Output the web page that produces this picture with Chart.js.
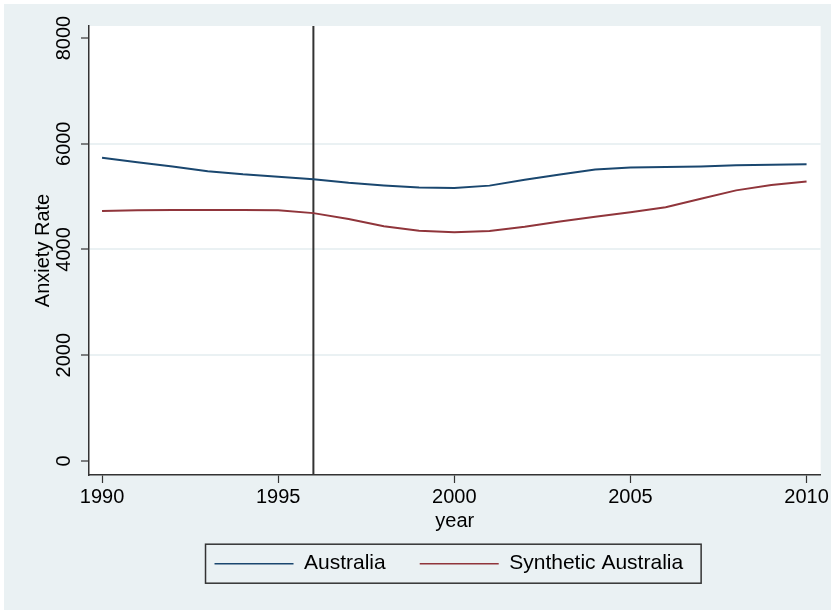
<!DOCTYPE html>
<html>
<head>
<meta charset="utf-8">
<script src="https://cdn.jsdelivr.net/npm/chart.js@4/dist/chart.umd.min.js"></script>
<style>
  html, body { margin: 0; padding: 0; background: #ffffff; }
  #wrap { width: 831px; height: 610px; }
</style>
</head>
<body>
<div id="wrap"><canvas id="chart" width="831" height="610"></canvas></div>
<script>
// Annual anxiety rate: Australia against its synthetic control
const years = [1990, 1991, 1992, 1993, 1994, 1995, 1996, 1997, 1998, 1999, 2000,
               2001, 2002, 2003, 2004, 2005, 2006, 2007, 2008, 2009, 2010];
const australia = [5737, 5650, 5568, 5482, 5422, 5378, 5330, 5262, 5210, 5172, 5162,
                   5208, 5318, 5420, 5512, 5550, 5558, 5572, 5592, 5604, 5610];
const syntheticAustralia = [4728, 4740, 4747, 4748, 4746, 4740, 4688, 4577, 4438, 4356, 4328,
                            4352, 4432, 4530, 4620, 4703, 4800, 4960, 5118, 5220, 5285];
const xTickValues = [1990, 1995, 2000, 2005, 2010];
const yTickValues = [0, 2000, 4000, 6000, 8000];
const treatmentYear = 1996;
const seriesNames = ['Australia', 'Synthetic Australia'];

const FONT = "'Liberation Sans', Helvetica, Arial, sans-serif";
const BG = '#eaf1f3';
const INK = '#333333';

const toPoints = (vals) => years.map((y, i) => ({ x: y, y: vals[i] }));

// Page background, plot region and the legend frame
const backdrop = {
  id: 'backdrop',
  afterLayout(chart) {
    // nudge the legend row slightly left of the plot centre
    if (chart.legend) { chart.legend.left -= 6; chart.legend.right -= 6; }
  },
  beforeDraw(chart) {
    const { ctx, chartArea: a } = chart;
    ctx.save();
    ctx.fillStyle = '#ffffff';
    ctx.fillRect(0, 0, chart.width, chart.height);
    ctx.fillStyle = BG;
    ctx.fillRect(4, 4, chart.width - 4, chart.height - 4);
    ctx.fillStyle = '#ffffff';
    ctx.fillRect(a.left, a.top, a.right - a.left, a.bottom - a.top);
    ctx.restore();
  },
  afterDraw(chart) {
    const boxes = chart.legend && chart.legend.legendHitBoxes;
    if (!boxes || !boxes.length) return;
    const first = boxes[0];
    const last = boxes[boxes.length - 1];
    const cy = first.top + first.height / 2;
    const ctx = chart.ctx;
    ctx.save();
    ctx.strokeStyle = INK;
    ctx.lineWidth = 1.5;
    ctx.strokeRect(first.left - 9, cy - 19.5, last.left + last.width + 18 - (first.left - 9), 39);
    ctx.restore();
  }
};

// Vertical reference line at the treatment year
const treatmentLine = {
  id: 'treatmentLine',
  beforeDatasetsDraw(chart) {
    const { ctx, chartArea: a, scales: { x } } = chart;
    const px = x.getPixelForValue(treatmentYear);
    ctx.save();
    ctx.strokeStyle = INK;
    ctx.lineWidth = 2;
    ctx.beginPath();
    ctx.moveTo(px, a.top);
    ctx.lineTo(px, a.bottom);
    ctx.stroke();
    ctx.restore();
  }
};

new Chart(document.getElementById('chart'), {
  type: 'line',
  data: {
    datasets: [
      { label: seriesNames[0], data: toPoints(australia), borderColor: '#1a476f', backgroundColor: '#1a476f' },
      { label: seriesNames[1], data: toPoints(syntheticAustralia), borderColor: '#90353b', backgroundColor: '#90353b' }
    ]
  },
  options: {
    responsive: false,
    animation: false,
    devicePixelRatio: 1,
    layout: { padding: { top: 26, right: 10, left: 0, bottom: 25.8 } },
    elements: {
      line: { borderWidth: 2, tension: 0 },
      point: { radius: 0, hoverRadius: 0 }
    },
    plugins: {
      tooltip: { enabled: false },
      legend: {
        position: 'bottom',
        fullSize: false,
        align: 'center',
        labels: {
          usePointStyle: true,
          pointStyle: 'line',
          pointStyleWidth: 79,
          boxHeight: 21,
          padding: 34,
          color: '#000000',
          font: { family: FONT, size: 21 },
          generateLabels(chart) {
            return chart.data.datasets.map((ds, i) => ({
              text: ds.label,
              datasetIndex: i,
              strokeStyle: ds.borderColor,
              fillStyle: ds.borderColor,
              lineWidth: 1.5,
              pointStyle: 'line',
              hidden: false
            }));
          }
        }
      }
    },
    scales: {
      x: {
        type: 'linear',
        position: 'bottom',
        min: 1989.63,
        max: 2010.4,
        afterBuildTicks(scale) { scale.ticks = xTickValues.map(v => ({ value: v })); },
        afterFit(scale) { scale.height = 44.2; },
        border: { display: true, color: INK, width: 1.5 },
        grid: { drawOnChartArea: false, drawTicks: true, tickLength: 8, tickColor: INK, tickWidth: 1.2 },
        ticks: {
          autoSkip: false, maxRotation: 0, minRotation: 0, padding: 2,
          color: '#000000', font: { family: FONT, size: 20 },
          callback: (v) => String(v)
        },
        title: {
          display: true, text: 'year', color: '#000000',
          font: { family: FONT, size: 20 },
          padding: { top: 0, bottom: -13.8 }
        }
      },
      y: {
        type: 'linear',
        position: 'left',
        min: -265,
        max: 8227,
        afterBuildTicks(scale) { scale.ticks = yTickValues.map(v => ({ value: v })); },
        afterFit(scale) { scale.width = 89; },
        border: { display: true, color: INK, width: 1.5 },
        grid: {
          drawOnChartArea: true, drawTicks: true, tickLength: 8, tickColor: INK, tickWidth: 1.2,
          lineWidth: 2,
          color: (c) => (c.tick && (c.tick.value === yTickValues[0] || c.tick.value === yTickValues[yTickValues.length - 1])) ? 'rgba(0,0,0,0)' : BG
        },
        ticks: {
          autoSkip: false, minRotation: 90, maxRotation: 90, crossAlign: 'center', padding: -5.75,
          color: '#000000', font: { family: FONT, size: 20 },
          callback: (v) => String(v)
        },
        title: {
          display: true, text: 'Anxiety Rate', color: '#000000',
          font: { family: FONT, size: 20 },
          padding: { top: 31, bottom: 0 }
        }
      }
    }
  },
  plugins: [backdrop, treatmentLine]
});
</script>
</body>
</html>
